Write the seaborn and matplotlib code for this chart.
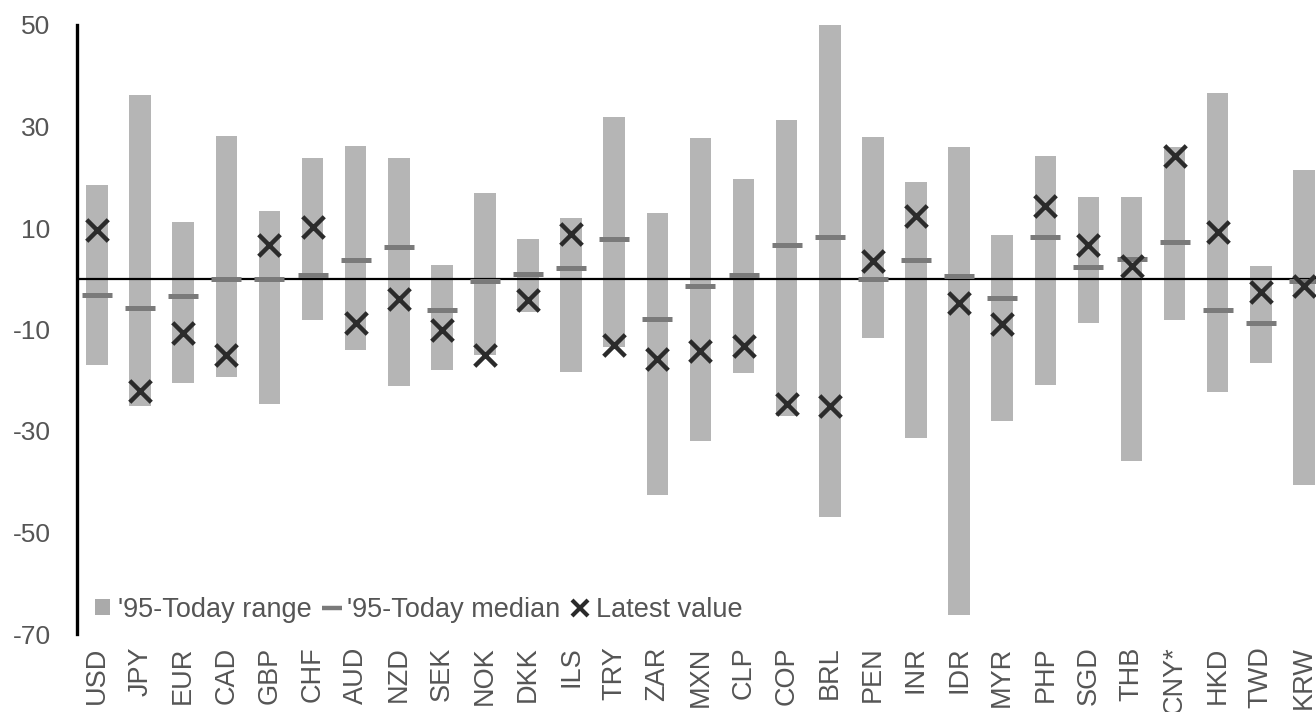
import matplotlib
matplotlib.use("Agg")
import matplotlib.pyplot as plt
from matplotlib.patches import Patch
from matplotlib.lines import Line2D
import seaborn as sns
import pandas as pd
import numpy as np

currencies = ["USD", "JPY", "EUR", "CAD", "GBP", "CHF", "AUD", "NZD", "SEK", "NOK",
              "DKK", "ILS", "TRY", "ZAR", "MXN", "CLP", "COP", "BRL", "PEN", "INR",
              "IDR", "MYR", "PHP", "SGD", "THB", "CNY*", "HKD", "TWD", "KRW"]
range_high = [18.5, 36.3, 11.1, 28.2, 13.3, 23.8, 26.1, 23.8, 2.8, 16.9,
              7.8, 12.0, 31.9, 12.9, 27.7, 19.7, 31.3, 50.0, 28.0, 19.0,
              25.9, 8.7, 24.1, 16.1, 16.1, 26.0, 36.6, 2.6, 21.5]
range_low = [-17.0, -25.0, -20.6, -19.4, -24.7, -8.1, -14.0, -21.2, -17.9, -15.0,
             -6.5, -18.4, -13.5, -42.6, -32.0, -18.6, -27.0, -47.0, -11.7, -31.4,
             -66.2, -28.0, -21.0, -8.7, -36.0, -8.2, -22.4, -16.6, -40.6]
median = [-3.2, -5.8, -3.4, 0.0, 0.0, 0.8, 3.7, 6.2, -6.1, -0.5,
          1.0, 2.2, 7.8, -8.0, -1.5, 0.8, 6.7, 8.2, 0.0, 3.7,
          0.6, -3.7, 8.2, 2.4, 3.8, 7.2, -6.1, -8.7, -0.5]
latest = [9.7, -22.2, -10.7, -15.0, 6.7, 10.1, -8.7, -4.0, -10.0, -15.0,
          -4.1, 8.8, -13.0, -15.8, -14.3, -13.3, -24.6, -25.0, 3.4, 12.4,
          -4.7, -8.9, 14.3, 6.7, 2.5, 24.1, 9.3, -2.6, -1.4]
y_ticks = [-70, -50, -30, -10, 10, 30, 50]
legend_labels = ["'95-Today range", "'95-Today median", "Latest value"]

df = pd.DataFrame({"currency": currencies, "high": range_high, "low": range_low,
                   "median": median, "latest": latest})
df["span"] = df["high"] - df["low"]

sns.set_style("white")
plt.rcParams["font.family"] = ["Liberation Sans", "DejaVu Sans"]

BAR = "#b5b5b5"
MED = "#7a7a7a"
XCOL = "#2b2b2b"
TXT = "#555555"

fig = plt.figure(figsize=(13.16, 7.12), dpi=100)
ax = fig.add_axes([77 / 1316, 78 / 712, 1239 / 1316, 609 / 712])

ax.bar(df["currency"], df["span"], bottom=df["low"], width=0.5, color=BAR,
       linewidth=0, zorder=1)
ax.axhline(0, color="black", lw=1.6, zorder=2)
sns.scatterplot(data=df, x="currency", y="median", marker="_", s=480,
                linewidth=3.6, color=MED, ax=ax, zorder=3, legend=False)
sns.scatterplot(data=df, x="currency", y="latest", marker="x", s=240,
                linewidth=3.2, color=XCOL, ax=ax, zorder=4, legend=False)

ax.set_xlim(-0.464, 28.28)
ax.set_ylim(-70, 50)
ax.set_yticks(y_ticks)
ax.set_yticklabels([str(v) for v in y_ticks])
ax.set_xlabel("")
ax.set_ylabel("")

for s in ["top", "right", "bottom"]:
    ax.spines[s].set_visible(False)
ax.spines["left"].set_color("black")
ax.spines["left"].set_linewidth(2.4)
ax.spines["left"].set_bounds(-70, 50)

ax.tick_params(axis="y", direction="inout", length=10, width=2.4, color="black",
               labelsize=19, labelcolor=TXT, pad=14)
ax.tick_params(axis="x", length=0, labelsize=19.5, labelcolor=TXT, pad=9,
               labelrotation=90)

handles = [
    Patch(facecolor="#aaaaaa", edgecolor="none"),
    Line2D([0], [0], marker="_", markersize=14, markeredgewidth=3.2, color=MED,
           linestyle="none"),
    Line2D([0], [0], marker="x", markersize=11, markeredgewidth=3, color=XCOL,
           linestyle="none"),
]
leg = ax.legend(handles, legend_labels, loc="center left",
                bbox_to_anchor=(0.006, 0.040), ncol=3, frameon=False,
                fontsize=19.5, handlelength=0.55, handleheight=0.55,
                handletextpad=0.3, columnspacing=0.45, borderaxespad=0)
for t in leg.get_texts():
    t.set_color(TXT)

fig.savefig("out.png", dpi=100)
